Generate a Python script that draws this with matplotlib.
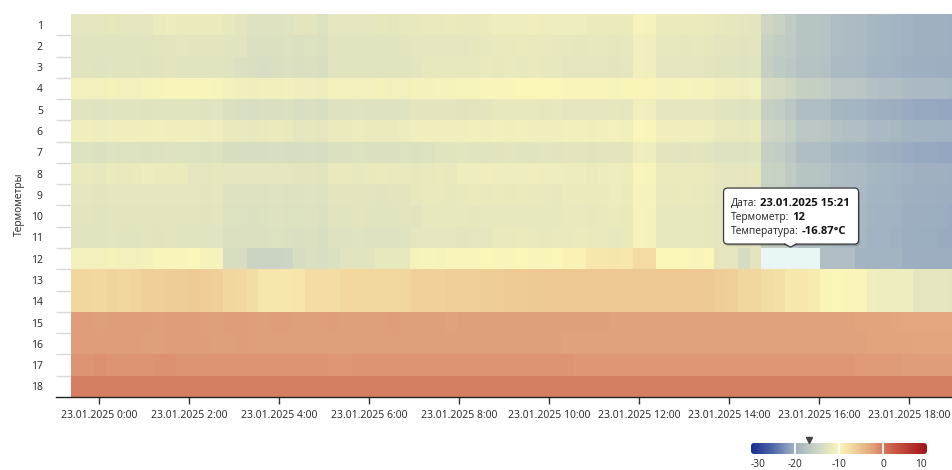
import numpy as np
import matplotlib
matplotlib.use("Agg")
import matplotlib.pyplot as plt
from matplotlib.colors import LinearSegmentedColormap, Normalize
from matplotlib.patches import FancyBboxPatch, Polygon, Rectangle
from matplotlib.lines import Line2D
from matplotlib.transforms import IdentityTransform

plt.rcParams['font.family'] = ['Open Sans', 'DejaVu Sans']

# ---------------- data ----------------
thermometers = [str(i) for i in range(1, 19)]
y_label = "Термометры"

# time axis (hours relative to 23.01.2025 0:00)
first_col_start_h = -0.622
col_step_h = 0.26
x_tick_hours = [0, 2, 4, 6, 8, 10, 12, 14, 16, 18]
x_tick_labels = ["23.01.2025 0:00", "23.01.2025 2:00", "23.01.2025 4:00",
                 "23.01.2025 6:00", "23.01.2025 8:00", "23.01.2025 10:00",
                 "23.01.2025 12:00", "23.01.2025 14:00", "23.01.2025 16:00",
                 "23.01.2025 18:00"]

row_01 = [-12.2,-12.3,-12.2,-12.1,-12.2,-12.2,-12.3, -11.6,-11.5,-11.6,-11.6,-11.7,-11.6,
          -12.0,-12.4, -13.0,-13.1,-13.0,-12.9, -12.4,-12.4, -13.2,
          -12.2,-12.3,-12.2,-12.2,-12.1,-12.2,-12.0, -11.9,-11.8,-11.8,-11.7,-11.8,-11.8,-11.7,
          -11.4,-11.3,-11.3,-11.2,-11.3,-11.3, -11.3,-11.4, -11.6,-11.6,-11.7,-11.6, -10.4,-10.5,
          -11.6,-11.7,-11.6,-11.6,-11.8, -12.0,-12.1, -12.3,-12.4, -15.0,-15.5,-16.5,
          -17.4,-17.5,-17.6, -18.4,-18.5,-18.6, -19.2,-19.3,-19.4, -19.8,-19.9,-20.0,-20.0,-20.1]
row_02 = [-12.7,-12.8,-12.7,-12.6,-12.7,-12.7,-12.8, -12.4,-12.4,-12.3,-12.4,-12.5,-12.4,
          -12.7,-12.8, -13.3,-13.4,-13.3,-13.2, -13.3,-13.2,-13.4,
          -12.7,-12.7,-12.6,-12.7,-12.6,-12.6,-12.5, -12.3,-12.3,-12.2,-12.3,-12.2,-12.1,
          -11.9,-11.8,-11.8,-11.7,-11.8,-11.8,-11.9, -12.0,-12.1,-12.0,-12.0,-12.1,-12.0,
          -11.0,-11.1, -12.0,-12.0,-12.1,-12.0,-12.1, -12.4,-12.5,-12.6,-12.5,
          -15.5, -16.4,-16.6, -17.4,-17.5,-17.6, -18.4,-18.5,-18.6, -19.2,-19.3,-19.4,
          -19.8,-19.9,-20.0,-20.0,-20.1]
row_03 = [-12.8,-12.8,-12.9,-12.7,-12.8,-12.8,-12.9, -12.6,-12.5,-12.6,-12.6,-12.7,-12.6,
          -12.9, -13.4,-13.5,-13.6,-13.5,-13.4, -13.5,-13.4,-13.6,
          -12.8,-12.7,-12.7,-12.8,-12.6,-12.7,-12.6,-12.5,
          -12.0,-11.9,-11.9,-12.0,-11.9,-11.8,-11.9,-11.8,-11.9,-11.8,-11.9,-12.0,
          -12.3,-12.3,-12.2,-12.3,-12.4,-12.3, -11.0,-11.1, -12.3,-12.2,-12.3,-12.3,-12.4,
          -12.8,-12.8,-12.9,-12.7, -15.8, -16.7,-16.9, -17.7,-17.8,-17.9, -18.6,-18.7,-18.8,
          -19.4,-19.5,-19.6, -20.0,-20.1,-20.1,-20.2,-20.3]
row_04 = [-10.8,-10.9,-10.8,-10.7,-10.8,-10.8,-10.6, -10.4,-10.3,-10.3,-10.2,-10.3,-10.4,
          -10.9,-11.0,-11.1,-11.0,-11.0,-10.9, -11.2,-11.2,-11.3,
          -10.9,-10.8,-10.8,-10.8,-10.7,-10.8,-10.8,-10.7,-10.7,-10.6,
          -10.5,-10.4,-10.4,-10.3,-10.3, -10.1,-10.0,-10.0,-9.9,-10.0,
          -10.3,-10.3,-10.2,-10.3,-10.4,-10.3, -9.8,-9.7, -10.5,-10.5,-10.4,-10.5,-10.6,
          -11.0,-11.0,-11.1,-10.9, -14.0,-14.2, -15.0, -15.9,-16.0,-16.1, -16.9,-17.0,-17.1,
          -17.9,-18.0,-18.1, -18.6,-18.8,-18.8,-18.9,-19.0]
row_05 = [-12.8,-12.8,-12.9,-12.7,-12.8,-12.8,-12.9,-12.8,-12.7,-12.8,-12.8,-12.9,-12.8,
          -13.4,-13.5,-13.6,-13.5,-13.5,-13.4, -13.6,-13.5,-13.7,
          -13.0,-13.0,-12.9,-13.0,-13.1,-13.0,-12.9, -12.5,-12.5,-12.4,-12.5,-12.6,-12.5,-12.4,
          -12.0,-12.0,-11.9,-12.0,-12.1,-12.0, -12.2,-12.2,-12.3,-12.2,-12.1,-12.2,
          -11.0,-11.1, -12.2,-12.2,-12.3,-12.2,-12.3, -12.8,-12.8,-12.9,-12.7,
          -15.9,-16.1, -17.0, -18.2,-18.3,-18.4, -19.2,-19.3,-19.4, -20.0,-20.1,-20.2,
          -20.6,-20.8,-20.9,-21.0,-21.0]
row_06 = [-11.2,-11.2,-11.3,-11.1,-11.2,-11.2,-11.1,-11.0,-11.1,-11.2,-11.2,-11.3,-11.2,
          -11.8,-11.8,-11.9,-11.8,-11.7,-11.8, -12.2,-12.1,-12.3,
          -11.6,-11.6,-11.5,-11.6,-11.7,-11.6,-11.5,
          -11.2,-11.1,-11.1,-11.2,-11.1,-11.0,-11.1,-11.0,-11.1,-11.0,-11.1,-11.1,-11.2,
          -11.0,-11.0,-11.1,-11.0,-10.9,-11.0, -10.0,-10.1, -11.2,-11.2,-11.1,-11.2,-11.3,
          -11.8,-11.8,-11.9,-11.7, -14.9,-15.1, -16.0, -16.9,-17.0,-17.1, -17.9,-18.0,-18.1,
          -18.8,-18.9,-19.0, -19.5,-19.6,-19.6,-19.7,-19.8]
row_07 = [-13.2,-13.2,-13.3,-13.1,-13.2,-13.2,-13.3,-13.2,-13.1,-13.2,-13.2,-13.3,-13.2,
          -13.8,-13.8,-13.9,-13.8,-13.7,-13.8, -13.8,-13.7,-13.9,
          -13.3,-13.3,-13.2,-13.3,-13.4,-13.3,-13.2,-13.3,-13.2,
          -12.6,-12.6,-12.5,-12.6,-12.7,-12.6,-12.5,-12.6,-12.6,-12.5,-12.6,
          -12.5,-12.5,-12.6,-12.5,-12.4,-12.5, -11.2,-11.3, -12.5,-12.5,-12.6,-12.5,-12.6,
          -13.0,-13.0,-13.1,-12.9, -15.9,-16.1, -17.0, -18.2,-18.3,-18.4, -19.2,-19.3,-19.4,
          -20.0,-20.1,-20.2, -20.6,-20.8,-20.9,-21.0,-21.0]
row_08 = [-11.8,-11.8,-11.9,-11.7,-11.8, -11.6,-11.5,-11.6,-11.6,-11.7,
          -12.2,-12.2,-12.1,-12.2,-12.3,-12.2,-12.2,-12.3,-12.2, -12.5,-12.4,-12.6,
          -11.8,-11.8,-11.9,-11.8,-11.7,-11.8,-11.8,-11.9,-11.8,-11.7,-11.8,
          -11.3,-11.3,-11.2,-11.3,-11.4,-11.3,-11.2,-11.3,-11.3,
          -11.5,-11.5,-11.6,-11.5,-11.4,-11.5, -10.3,-10.4, -11.7,-11.7,-11.6,-11.7,-11.8,
          -12.2,-12.2,-12.3,-12.1, -15.4,-15.6, -16.5, -17.4,-17.5,-17.6, -18.4,-18.5,-18.6,
          -19.2,-19.3,-19.4, -19.8,-19.9,-20.0,-20.0,-20.1]
row_09 = [-12.3,-12.3,-12.4,-12.2,-12.3,-12.3,-12.2,-12.3,-12.2,-12.3,-12.3,-12.4,-12.3,
          -13.0,-13.0,-13.1,-13.0,-12.9,-13.0, -13.0,-12.9,-13.1,
          -12.5,-12.5,-12.4,-12.5,-12.6,-12.5,-12.4,
          -11.9,-11.8,-11.8,-11.9,-11.8,-11.7,-11.8,-11.7,-11.8,-11.7,-11.8,-11.8,-11.9,
          -11.6,-11.6,-11.7,-11.6,-11.5,-11.6, -10.5,-10.6, -11.8,-11.8,-11.7,-11.8,-11.9,
          -12.3,-12.3,-12.4,-12.2, -15.7,-15.9, -16.8, -17.7,-17.8,-17.9, -18.6,-18.7,-18.8,
          -19.4,-19.5,-19.6, -20.0,-20.1,-20.1,-20.2,-20.3]
row_10 = [-12.5,-12.5,-12.6,-12.4,-12.5,-12.5,-12.4,-12.5,-12.4,-12.5,-12.5,-12.6,-12.5,
          -13.2,-13.2,-13.3,-13.2,-13.1,-13.2, -13.2,-13.1,-13.3,
          -12.6,-12.6,-12.5,-12.6,-12.7,-12.6,-12.5,-12.6,
          -12.0,-12.0,-11.9,-12.0,-12.1,-12.0,-11.9,-12.0,-12.0,-11.9,-12.0,-12.0,
          -11.8,-11.8,-11.9,-11.8,-11.7,-11.8, -10.6,-10.7, -12.0,-12.0,-11.9,-12.0,-12.1,
          -12.5,-12.5,-12.6,-12.4, -15.9,-16.1, -17.0, -17.9,-18.0,-18.1, -18.8,-18.9,-19.0,
          -19.6,-19.7,-19.8, -20.2,-20.3,-20.3,-20.4,-20.5]
row_11 = [-12.6,-12.6,-12.7,-12.5,-12.6,-12.6,-12.5,-12.6,-12.5,-12.6,-12.6,-12.7,-12.6,
          -13.3,-13.3,-13.4,-13.3,-13.2,-13.3, -13.5,-13.4,-13.6,
          -13.0,-13.0,-12.9,-13.0,-13.1,-13.0,-12.9, -12.3,-12.3,-12.2,-12.3,-12.4,-12.3,-12.2,
          -11.8,-11.8,-11.7,-11.8,-11.9,-11.8,-11.8,-11.7,-11.8,-11.8,-11.9,-11.8,
          -10.6,-10.7, -12.0,-12.0,-11.9,-12.0,-12.1, -12.5,-12.5,-12.6,-12.4,
          -16.1,-16.3, -17.2, -18.1,-18.2,-18.3, -18.9,-19.0,-19.1, -19.7,-19.8,-19.9,
          -20.3,-20.4,-20.4,-20.5,-20.6]
row_12 = [-10.8,-10.8,-10.9,-10.7,-10.8,-10.8,-10.7, -10.3,-10.3,-10.1,-10.0, -10.5,-10.5,
          -13.8,-13.9, -15.2,-15.3,-15.2,-15.1, -13.8, -13.5,-13.7,-13.4, -12.8,-12.8,-12.7,
          -12.0,-12.0,-11.9, -10.5,-10.4,-10.5,
          -10.2,-10.1,-10.1,-10.0,-10.1,-10.1,-10.0,-10.1,-10.1,-10.0,
          -9.5,-9.5, -8.3,-8.3,-8.2,-8.3, -7.3,-7.3, -10.0,-10.0,-10.0,-10.1,-10.0,
          -12.3,-12.3, -14.0, -12.5, -16.87,-16.87,-16.87,-16.87,-16.87,
          -18.0,-18.0,-18.0, -19.6,-19.6,-19.6,-19.6, -20.3,-20.3,-20.3,-20.3,-20.3]
row_13 = [-6.8,-6.8,-6.9,-6.7,-6.8,-6.7, -6.1,-6.1,-6.0,-6.0,-5.9,-6.0,-6.1,
          -6.8,-6.9, -7.5, -8.3,-8.4,-8.3,-8.2, -7.5,-7.5,-7.4,
          -7.0,-7.0,-6.9,-7.0,-6.9,-6.8, -6.4,-6.3,-6.3,-6.2,-6.2,-6.1,-6.0,-6.0,
          -5.8,-5.8,-5.7,-5.7,-5.6,-5.6,-5.6,-5.5,-5.5,-5.5,-5.6,-5.5,-5.5,-5.6,-5.6,-5.5,-5.6,-5.7,
          -6.0,-6.1, -6.8,-6.8, -7.5,-7.6, -8.3,-8.3, -8.8, -9.8,-9.9,-9.8,-9.7,
          -11.2,-11.3,-11.3,-11.4, -12.2,-12.3,-12.3,-12.4]
row_14 = [-6.8,-6.8,-6.9,-6.7,-6.8,-6.7, -6.1,-6.1,-6.0,-6.0,-5.9,-6.0,-6.1,
          -6.8,-6.9, -7.5, -8.3,-8.4,-8.3,-8.2, -7.5,-7.5,-7.4,
          -7.0,-7.0,-6.9,-7.0,-6.9,-6.8, -6.4,-6.3,-6.3,-6.2,-6.2,-6.1,-6.0,-6.0,
          -5.8,-5.8,-5.7,-5.7,-5.6,-5.6,-5.6,-5.5,-5.5,-5.5,-5.6,-5.5,-5.5,-5.6,-5.6,-5.5,-5.6,-5.7,
          -6.0,-6.1, -6.8,-6.8, -7.5,-7.6, -8.3,-8.3, -8.8, -9.8,-9.9,-9.8,-9.7,
          -11.2,-11.3,-11.3,-11.4, -12.2,-12.3,-12.3,-12.4]
row_15 = [-2.0,-2.0,-2.1,-2.0,-1.9,-2.0,-2.0,-2.1,-2.0,-2.0,
          -2.0,-2.1,-2.1,-2.0,-2.0,-2.1,-2.1,-2.0,-2.0,-2.1,
          -2.1,-2.1,-2.0,-2.1,-2.1,-2.1,-2.1,-2.0,-2.1,-2.1,
          -2.1,-2.1,-2.2,-2.1,-2.1,-2.1,-2.1,-2.1,-2.1,-2.1,
          -2.1,-2.1,-2.1,-2.1,-2.1,-2.1,-2.2,-2.2,-2.2,-2.2,
          -2.2,-2.2,-2.2,-2.2,-2.2,-2.2,-2.2,-2.2,-2.2,-2.2,
          -2.2,-2.2,-2.3,-2.3,-2.3,-2.3,-2.3,-2.4,-2.4,-2.4,
          -2.6,-2.7,-2.7,-2.7,-2.8,-2.8]
row_16 = [-2.0,-2.0,-2.0,-2.0,-2.0,-2.0,-2.1,-2.1,-2.0,-2.0,
          -2.0,-2.0,-2.1,-2.1,-2.0,-2.1,-2.1,-2.1,-2.1,-2.1,
          -2.1,-2.1,-2.1,-2.1,-2.1,-2.1,-2.1,-2.1,-2.1,-2.1,
          -2.1,-2.1,-2.1,-2.1,-2.1,-2.1,-2.1,-2.1,-2.1,-2.1,
          -2.1,-2.1,-2.2,-2.2,-2.2,-2.2,-2.2,-2.2,-2.2,-2.2,
          -2.2,-2.2,-2.2,-2.2,-2.2,-2.2,-2.2,-2.2,-2.2,-2.2,
          -2.2,-2.2,-2.3,-2.3,-2.3,-2.3,-2.3,-2.3,-2.4,-2.4,
          -2.5,-2.5,-2.6,-2.6,-2.6,-2.6]
row_17 = [-1.5,-1.5,-1.4,-1.5,-1.5,-1.5,-1.5,-1.4,-1.4,-1.5,
          -1.5,-1.5,-1.5,-1.5,-1.5,-1.5,-1.5,-1.5,-1.5,-1.5,
          -1.5,-1.5,-1.6,-1.6,-1.5,-1.5,-1.5,-1.5,-1.5,-1.5,
          -1.5,-1.5,-1.5,-1.5,-1.5,-1.5,-1.5,-1.5,-1.5,-1.5,
          -1.5,-1.5,-1.5,-1.6,-1.6,-1.6,-1.6,-1.6,-1.6,-1.6,
          -1.6,-1.6,-1.6,-1.6,-1.6,-1.6,-1.6,-1.6,-1.6,-1.6,
          -1.6,-1.6,-1.6,-1.6,-1.7,-1.7,-1.7,-1.8,-1.8,-1.8,
          -1.8,-1.9,-1.9,-1.9,-1.9,-1.9]
row_18 = [-0.2,-0.3,-0.3,-0.3,-0.3,-0.3,-0.2,-0.2,-0.3,-0.3,
          -0.3,-0.3,-0.3,-0.3,-0.3,-0.3,-0.3,-0.3,-0.3,-0.3,
          -0.3,-0.3,-0.3,-0.3,-0.3,-0.3,-0.3,-0.3,-0.3,-0.3,
          -0.3,-0.3,-0.3,-0.3,-0.3,-0.3,-0.3,-0.3,-0.3,-0.3,
          -0.3,-0.3,-0.3,-0.3,-0.3,-0.3,-0.3,-0.3,-0.3,-0.3,
          -0.3,-0.3,-0.3,-0.3,-0.3,-0.3,-0.3,-0.3,-0.3,-0.3,
          -0.3,-0.3,-0.3,-0.3,-0.3,-0.3,-0.3,-0.3,-0.3,-0.3,
          -0.3,-0.3,-0.3,-0.3,-0.3,-0.3]

rows = [row_01, row_02, row_03, row_04, row_05, row_06, row_07, row_08, row_09,
        row_10, row_11, row_12, row_13, row_14, row_15, row_16, row_17, row_18]

# hovered reading (tooltip)
hover_row = 12
hover_date = "23.01.2025 15:21"
hover_value = -16.87

# colour scale
cbar_min, cbar_max = -30, 10
cbar_ticks = [-30, -20, -10, 0, 10]
cbar_tick_labels = ["-30", "-20", "-10", "0", "10"]
cbar_separators = [-20, -10, 0]
cmap_stops = [(-30, "#192d91"), (-25, "#5069aa"), (-21, "#96a8c0"), (-18, "#b2c0c4"),
              (-15, "#cdd6c3"), (-13, "#dee2c0"), (-12, "#e8e8be"), (-10, "#faf6ba"),
              (-8, "#f6e4aa"), (-6, "#eecd96"), (-4, "#e8b687"), (-2, "#e09e7a"),
              (0, "#d47a5f"), (3, "#c85544"), (10, "#a01419")]

# ---------------- figure ----------------
lens = [len(r) for r in rows]
assert len(set(lens)) == 1, lens
Z = np.array(rows, dtype=float)
ncols = Z.shape[1]

cmap = LinearSegmentedColormap.from_list(
    "temp", [((v - cbar_min) / (cbar_max - cbar_min), c) for v, c in cmap_stops])
norm = Normalize(cbar_min, cbar_max)

W, H = 952, 470
fig = plt.figure(figsize=(W / 100, H / 100), dpi=100)
fig.patch.set_facecolor("white")
ax = fig.add_axes([56 / W, 73 / H, 896 / W, 383 / H])

x_edges = first_col_start_h + col_step_h * np.arange(ncols + 1)
y_edges = np.arange(0.5, len(rows) + 1.0, 1.0)
ax.pcolormesh(x_edges, y_edges, Z, cmap=cmap, norm=norm, shading="flat",
              antialiased=False, edgecolors="none", linewidth=0, zorder=2)

# hover highlight cell
hcols = np.where(np.isclose(Z[hover_row - 1], hover_value))[0]
hx0, hx1 = x_edges[hcols[0]], x_edges[hcols[-1] + 1]
ax.add_patch(Rectangle((hx0, hover_row - 0.5), hx1 - hx0, 1.0, facecolor="#e8f6f6",
                       edgecolor="none", zorder=3))

ax.set_xlim(-0.9556, 18.956)
ax.set_ylim(len(rows) + 0.5, 0.5)

ax.set_xticks(x_tick_hours)
ax.set_xticklabels(x_tick_labels)
ax.set_yticks(range(1, len(rows) + 1))
ax.set_yticklabels(thermometers)
ax.set_yticks(np.arange(1.5, len(rows), 1.0), minor=True)
ax.tick_params(axis="x", length=5, width=1, color="#333333", pad=4,
               labelsize=7.5, labelcolor="#222222")
ax.tick_params(axis="y", which="major", length=0, pad=9.5, labelsize=7.5,
               labelcolor="#222222")
ax.tick_params(axis="y", which="minor", length=10.8, width=1, direction="in",
               color="#d9d9d9")
for s in ["top", "right", "left"]:
    ax.spines[s].set_visible(False)
ax.spines["bottom"].set_color("#222222")
ax.spines["bottom"].set_linewidth(1)

fig.text(19 / W, 1 - 204 / H, y_label, rotation=90, ha="center", va="center",
         fontsize=7.3, color="#222222")

# ---------------- tooltip ----------------
ident = IdentityTransform()
tip_x, tip_y = ax.transData.transform(((hx0 + hx1) / 2, hover_row - 0.5))
tip_y += 1
bl, br = tip_x - 67, tip_x + 68
bb, bt = tip_y + 3, tip_y + 59
fig.add_artist(FancyBboxPatch((bl + 1.5, bb - 2), br - bl, bt - bb,
                              boxstyle="round,pad=0,rounding_size=4",
                              facecolor=(0, 0, 0, 0.18), edgecolor="none",
                              transform=ident, zorder=10))
fig.add_artist(FancyBboxPatch((bl, bb), br - bl, bt - bb,
                              boxstyle="round,pad=0,rounding_size=4",
                              facecolor="white", edgecolor="#3a3a3a", linewidth=0.9,
                              transform=ident, zorder=11))
fig.add_artist(Polygon([[tip_x - 6, bb + 1.2], [tip_x, tip_y], [tip_x + 6, bb + 1.2]],
                       closed=True, facecolor="white", edgecolor="none",
                       transform=ident, zorder=12))
fig.add_artist(Line2D([tip_x - 6, tip_x, tip_x + 6], [bb, tip_y, bb], color="#3a3a3a",
                      linewidth=0.9, transform=ident, zorder=12))

renderer = fig.canvas.get_renderer()
tt_lines = [("Дата:", hover_date), ("Термометр:", str(hover_row)),
            ("Температура:", f"{hover_value:.2f}°C")]
for i, (lab, val) in enumerate(tt_lines):
    yb = bt - 18 - 14.2 * i
    t = fig.text(bl + 7, yb, lab, transform=ident, fontsize=7.4, color="#222222",
                 va="baseline", zorder=13)
    ext = t.get_window_extent(renderer)
    fig.text(ext.x1 + 3, yb, val, transform=ident, fontsize=8.1, color="#111111",
             fontweight="bold", va="baseline", zorder=13)

# ---------------- colour bar ----------------
cax = fig.add_axes([751 / W, 16 / H, 176 / W, 11 / H])
grad = np.linspace(cbar_min, cbar_max, 600)[None, :]
im = cax.imshow(grad, aspect="auto", cmap=cmap, norm=norm,
                extent=(cbar_min, cbar_max, 0, 1))
clip = FancyBboxPatch((751, 16), 176, 11, boxstyle="round,pad=0,rounding_size=3",
                      transform=ident, facecolor="none", edgecolor="none")
im.set_clip_path(clip)
for v in cbar_separators:
    cax.axvline(v, color="white", linewidth=1.3)
cax.set_xlim(cbar_min, cbar_max)
cax.set_ylim(0, 1)
cax.set_yticks([])
cax.set_xticks(cbar_ticks)
cax.set_xticklabels(cbar_tick_labels)
cax.tick_params(axis="x", length=0, pad=3.5, labelsize=7.3, labelcolor="#222222")
labs = cax.get_xticklabels()
labs[0].set_ha("left")
labs[-1].set_ha("right")
for s in cax.spines.values():
    s.set_visible(False)
cax.plot([hover_value], [1.3], marker="v", markersize=5, color="#444444",
         clip_on=False, linestyle="none")

fig.savefig("out.png", dpi=100, facecolor="white")
